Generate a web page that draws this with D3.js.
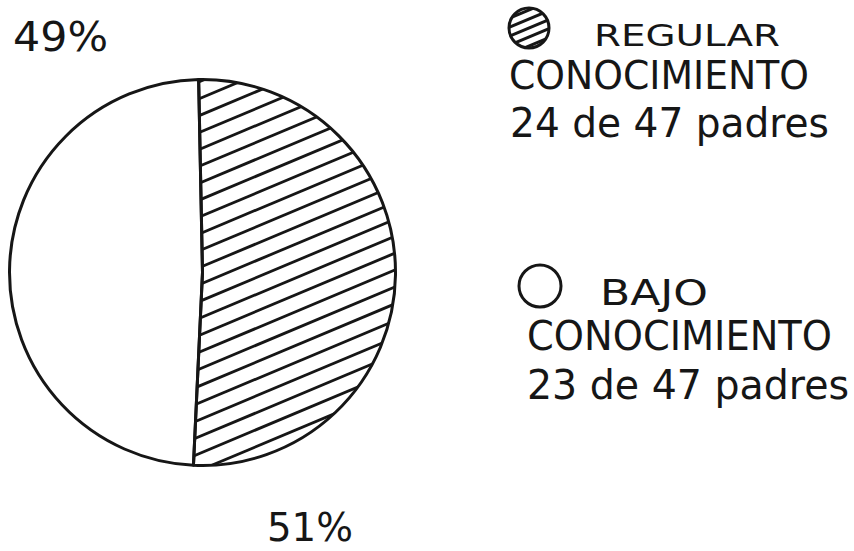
<!DOCTYPE html>
<html>
<head>
<meta charset="utf-8">
<script src="https://cdn.jsdelivr.net/npm/d3@7"></script>
<style>
  html, body { margin: 0; padding: 0; background: #fff; }
  svg { display: block; }
</style>
</head>
<body>
<div id="chart"></div>
<script>
// data
const categories = ['REGULAR CONOCIMIENTO', 'BAJO CONOCIMIENTO']
const counts = [24, 23]
const totalParents = 47
const pctLabels = ['51%', '49%']
const legendHead = ['REGULAR', 'BAJO']

const W = 854, H = 551
const INK = '#161616'
const FONT = '"DejaVu Sans", "Noto Sans", sans-serif'

const svg = d3.select('#chart').append('svg')
  .attr('width', W).attr('height', H)
  .style('background', '#fff')

// ── Pie ──────────────────────────────────────────────────────────────
const cx = 202.5, cy = 272.5, R = 193
const start = -0.02
const pie = d3.pie().sort(null).value(d => d).startAngle(start).endAngle(start + 2 * Math.PI)
const arcs = pie(counts)
const arc = d3.arc().innerRadius(0).outerRadius(R)

const gPie = svg.append('g').attr('transform', `translate(${cx},${cy})`)

const defs = svg.append('defs')
defs.append('clipPath').attr('id', 'clip-hatch')
  .append('path').attr('d', arc(arcs[0]))

// hatch lines (rising to the right)
const slope = 0.42
const step = 16.9
const y0 = 81.5 - cy  // first line where it meets the divider
const hatch = gPie.append('g').attr('clip-path', 'url(#clip-hatch)')
hatch.selectAll('line')
  .data(d3.range(-2, 26))
  .join('line')
  .attr('x1', -R - 10)
  .attr('x2', R + 10)
  .attr('y1', k => y0 + k * step + slope * (R + 10 - 2.5))
  .attr('y2', k => y0 + k * step - slope * (R + 10 + 2.5))
  .attr('stroke', INK)
  .attr('stroke-width', 2.8)

gPie.selectAll('path.slice')
  .data(arcs)
  .join('path')
  .attr('class', 'slice')
  .attr('d', arc)
  .attr('fill', 'none')
  .attr('stroke', INK)
  .attr('stroke-width', 3)
  .attr('stroke-linejoin', 'round')

// ── Percent labels ───────────────────────────────────────────────────
const pctPos = [
  { x: 267, y: 541, size: 39, w: 86 },   // 51%
  { x: 13, y: 51, size: 41, w: 95 }      // 49%
]
svg.selectAll('text.pct')
  .data(pctLabels)
  .join('text')
  .attr('class', 'pct')
  .attr('x', (d, i) => pctPos[i].x)
  .attr('y', (d, i) => pctPos[i].y)
  .attr('textLength', (d, i) => pctPos[i].w)
  .attr('lengthAdjust', 'spacingAndGlyphs')
  .attr('font-family', FONT)
  .attr('font-size', (d, i) => pctPos[i].size)
  .attr('fill', INK)
  .text(d => d)

// ── Legend ───────────────────────────────────────────────────────────
const legendLayout = [
  {
    icon: { x: 529, y: 28, r: 20 },
    lines: [
      { x: 594, y: 46, size: 31, w: 186 },
      { x: 509, y: 89, size: 39, w: 300 },
      { x: 510, y: 137, size: 40, w: 319 }
    ]
  },
  {
    icon: { x: 540, y: 286, r: 21 },
    lines: [
      { x: 600, y: 305, size: 36, w: 108 },
      { x: 527, y: 350, size: 41, w: 305 },
      { x: 527, y: 399, size: 40, w: 322 }
    ]
  }
]

categories.forEach((cat, i) => {
  const L = legendLayout[i]
  const g = svg.append('g').attr('class', 'legend-item')
  const texts = [legendHead[i], cat.split(' ').slice(1).join(' '), `${counts[i]} de ${totalParents} padres`]

  if (i === 0) {
    const id = 'clip-leg-' + i
    defs.append('clipPath').attr('id', id)
      .append('circle').attr('cx', L.icon.x).attr('cy', L.icon.y).attr('r', L.icon.r)
    g.append('g').attr('clip-path', `url(#${id})`)
      .selectAll('line')
      .data(d3.range(-3, 4))
      .join('line')
      .attr('x1', L.icon.x - 30).attr('x2', L.icon.x + 30)
      .attr('y1', k => L.icon.y + k * 9 + slope * 30)
      .attr('y2', k => L.icon.y + k * 9 - slope * 30)
      .attr('stroke', INK).attr('stroke-width', 3)
  }
  g.append('circle')
    .attr('cx', L.icon.x).attr('cy', L.icon.y).attr('r', L.icon.r)
    .attr('fill', 'none').attr('stroke', INK).attr('stroke-width', 3)

  g.selectAll('text')
    .data(texts)
    .join('text')
    .attr('x', (d, j) => L.lines[j].x)
    .attr('y', (d, j) => L.lines[j].y)
    .attr('textLength', (d, j) => L.lines[j].w)
    .attr('lengthAdjust', 'spacingAndGlyphs')
    .attr('font-family', FONT)
    .attr('font-size', (d, j) => L.lines[j].size)
    .attr('fill', INK)
    .text(d => d)
})
</script>
</body>
</html>
